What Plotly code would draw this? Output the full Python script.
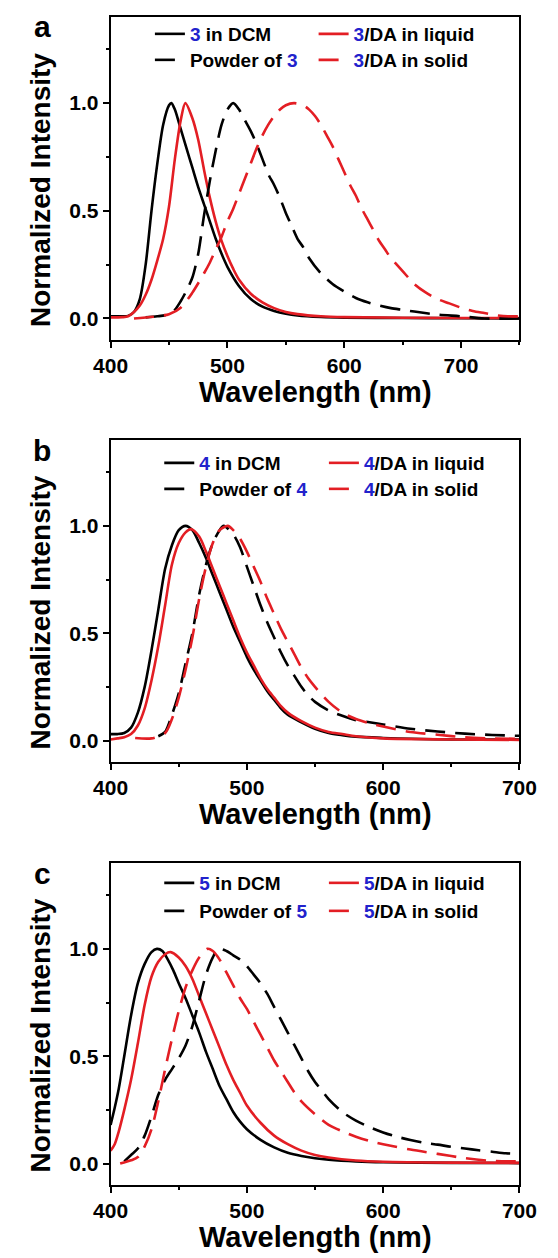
import plotly.graph_objects as go

# ---------------- Panel a : compound 3 ----------------
wl_3_dcm = [400, 410, 415, 420, 425, 430, 435, 440, 445, 450, 452, 455, 460, 465, 470, 475, 480,
            485, 490, 495, 500, 510, 520, 530, 540, 550, 560, 580, 600, 650, 700, 750]
int_3_dcm = [0.01, 0.01, 0.012, 0.03, 0.09, 0.25, 0.50, 0.72, 0.90, 0.99, 1.0, 0.97, 0.88, 0.79, 0.70,
             0.61, 0.53, 0.45, 0.37, 0.30, 0.24, 0.15, 0.09, 0.055, 0.035, 0.022, 0.014, 0.007,
             0.004, 0.002, 0.001, 0.0]

wl_3_powder = [430, 440, 450, 455, 460, 465, 470, 475, 480, 485, 490, 495, 500, 505, 510, 515, 520,
               525, 530, 535, 540, 545, 550, 555, 560, 565, 570, 580, 590, 600, 610, 620, 630, 640,
               650, 660, 680, 700, 720, 750]
int_3_powder = [0.005, 0.01, 0.02, 0.04, 0.08, 0.13, 0.19, 0.30, 0.48, 0.64, 0.78, 0.90, 0.97, 1.0,
                0.97, 0.92, 0.87, 0.81, 0.74, 0.67, 0.62, 0.56, 0.49, 0.43, 0.37, 0.33, 0.28, 0.21,
                0.16, 0.125, 0.095, 0.075, 0.06, 0.048, 0.04, 0.032, 0.018, 0.01, 0.0, 0.0]

wl_3_liquid = [400, 410, 415, 420, 425, 430, 435, 440, 445, 450, 455, 460, 464, 470, 475, 480, 485,
               490, 495, 500, 505, 510, 520, 530, 540, 550, 560, 580, 600, 700, 750]
int_3_liquid = [0.005, 0.006, 0.01, 0.03, 0.06, 0.11, 0.18, 0.27, 0.37, 0.52, 0.74, 0.92, 1.0, 0.93,
                0.83, 0.69, 0.56, 0.45, 0.36, 0.29, 0.23, 0.18, 0.115, 0.075, 0.048, 0.03, 0.02,
                0.01, 0.006, 0.002, 0.002]

wl_3_solid = [420, 440, 450, 460, 470, 480, 485, 490, 495, 500, 505, 510, 515, 520, 525, 530, 535,
              540, 545, 550, 557, 565, 570, 575, 580, 585, 590, 595, 600, 605, 610, 615, 620, 625,
              630, 635, 640, 645, 650, 660, 670, 680, 690, 700, 710, 720, 730, 740, 750]
int_3_solid = [0.0, 0.01, 0.02, 0.05, 0.12, 0.21, 0.26, 0.32, 0.38, 0.45, 0.51, 0.58, 0.65, 0.72,
               0.79, 0.85, 0.90, 0.94, 0.97, 0.99, 1.0, 0.99, 0.97, 0.94, 0.90, 0.85, 0.80, 0.74,
               0.68, 0.62, 0.57, 0.51, 0.46, 0.41, 0.36, 0.32, 0.28, 0.25, 0.22, 0.16, 0.12, 0.09,
               0.07, 0.05, 0.035, 0.025, 0.015, 0.01, 0.01]

# ---------------- Panel b : compound 4 ----------------
wl_4_dcm = [400, 405, 410, 415, 420, 425, 430, 435, 440, 445, 450, 455, 460, 465, 470, 475, 480,
            485, 490, 495, 500, 505, 510, 515, 520, 525, 530, 540, 550, 560, 570, 580, 600, 620,
            650, 700]
int_4_dcm = [0.03, 0.03, 0.035, 0.06, 0.13, 0.25, 0.42, 0.61, 0.80, 0.91, 0.98, 1.0, 0.98, 0.92,
             0.85, 0.77, 0.69, 0.61, 0.53, 0.46, 0.39, 0.33, 0.28, 0.23, 0.19, 0.15, 0.12, 0.085,
             0.055, 0.035, 0.025, 0.018, 0.012, 0.008, 0.005, 0.005]

wl_4_powder = [435, 440, 445, 450, 455, 460, 465, 470, 475, 480, 483, 490, 495, 500, 505, 510, 515,
               520, 525, 530, 535, 540, 545, 550, 560, 570, 580, 590, 600, 620, 640, 660, 680, 700]
int_4_powder = [0.02, 0.04, 0.12, 0.22, 0.36, 0.50, 0.68, 0.82, 0.92, 0.98, 1.0, 0.96, 0.90, 0.81,
                0.72, 0.63, 0.55, 0.48, 0.41, 0.35, 0.30, 0.25, 0.21, 0.18, 0.14, 0.115, 0.095,
                0.085, 0.075, 0.055, 0.042, 0.032, 0.026, 0.022]

wl_4_liquid = [400, 405, 410, 415, 420, 425, 430, 435, 440, 445, 450, 455, 459, 465, 470, 475, 480,
               485, 490, 495, 500, 505, 510, 515, 520, 525, 530, 540, 550, 560, 570, 580, 600, 650,
               700]
int_4_liquid = [0.005, 0.01, 0.015, 0.03, 0.07, 0.15, 0.28, 0.44, 0.63, 0.82, 0.92, 0.97, 0.985,
                0.95, 0.88, 0.80, 0.72, 0.64, 0.56, 0.48, 0.41, 0.35, 0.29, 0.24, 0.20, 0.16, 0.13,
                0.09, 0.06, 0.04, 0.03, 0.02, 0.01, 0.005, 0.003]

wl_4_solid = [418, 430, 440, 445, 450, 455, 460, 465, 470, 475, 480, 486, 490, 495, 500, 505, 510,
              515, 520, 525, 530, 535, 540, 545, 550, 560, 570, 580, 590, 600, 620, 640, 660, 680,
              700]
int_4_solid = [0.012, 0.01, 0.035, 0.10, 0.20, 0.33, 0.48, 0.66, 0.81, 0.92, 0.98, 1.0, 0.98, 0.94,
               0.88, 0.81, 0.74, 0.66, 0.59, 0.52, 0.46, 0.40, 0.34, 0.29, 0.25, 0.18, 0.13, 0.10,
               0.08, 0.065, 0.04, 0.027, 0.015, 0.01, 0.008]

# ---------------- Panel c : compound 5 ----------------
wl_5_dcm = [400, 403, 406, 410, 415, 420, 425, 430, 434, 438, 442, 446, 450, 455, 460, 465, 470,
            475, 480, 485, 490, 495, 500, 510, 520, 530, 540, 550, 560, 580, 600, 650, 700]
int_5_dcm = [0.18, 0.26, 0.35, 0.50, 0.69, 0.84, 0.93, 0.985, 1.0, 0.99, 0.95, 0.90, 0.84, 0.77,
             0.69, 0.61, 0.52, 0.44, 0.36, 0.30, 0.24, 0.195, 0.16, 0.11, 0.075, 0.05, 0.035,
             0.025, 0.018, 0.01, 0.006, 0.003, 0.002]

wl_5_powder = [410, 415, 420, 425, 430, 435, 440, 445, 450, 455, 460, 465, 470, 475, 479, 485, 490,
               495, 500, 505, 510, 515, 520, 525, 530, 535, 540, 545, 550, 555, 560, 570, 580, 590,
               600, 610, 620, 630, 640, 650, 660, 670, 680, 690, 700]
int_5_powder = [0.01, 0.04, 0.07, 0.13, 0.22, 0.32, 0.39, 0.44, 0.49, 0.55, 0.64, 0.76, 0.88, 0.96,
                1.0, 0.99, 0.97, 0.95, 0.92, 0.88, 0.84, 0.79, 0.73, 0.67, 0.61, 0.55, 0.49, 0.43,
                0.38, 0.34, 0.30, 0.24, 0.20, 0.17, 0.145, 0.125, 0.11, 0.097, 0.088, 0.078, 0.07,
                0.062, 0.055, 0.048, 0.045]

wl_5_liquid = [400, 403, 406, 410, 415, 420, 425, 430, 435, 440, 444, 450, 455, 460, 465, 470, 475,
               480, 485, 490, 495, 500, 510, 520, 530, 540, 550, 560, 580, 600, 650, 700]
int_5_liquid = [0.06, 0.09, 0.15, 0.25, 0.39, 0.56, 0.74, 0.87, 0.94, 0.975, 0.985, 0.96, 0.92,
                0.86, 0.78, 0.70, 0.62, 0.54, 0.46, 0.39, 0.33, 0.27, 0.19, 0.13, 0.09, 0.06, 0.04,
                0.028, 0.014, 0.008, 0.004, 0.003]

wl_5_solid = [407, 415, 420, 425, 430, 435, 440, 445, 450, 455, 460, 465, 471, 475, 480, 485, 490,
              495, 500, 505, 510, 515, 520, 525, 530, 535, 540, 550, 560, 570, 580, 590, 600, 620,
              640, 660, 680, 700]
int_5_solid = [0.0, 0.015, 0.03, 0.08, 0.16, 0.29, 0.44, 0.58, 0.71, 0.82, 0.90, 0.96, 1.0, 0.99,
               0.95, 0.89, 0.83, 0.77, 0.72, 0.66, 0.60, 0.54, 0.48, 0.43, 0.38, 0.33, 0.29, 0.23,
               0.18, 0.15, 0.125, 0.105, 0.09, 0.065, 0.045, 0.025, 0.012, 0.01]

# ---------------- styling ----------------
W, H = 558, 1258
FONT = "Liberation Sans"
BLACK = "#000000"
RED = "#e31e24"
BLUE = "#2222cc"
DASH = "20px,10px"
LW = 2.6

# legend entries: (column x of the entry, row centres) per panel
panels = [
    dict(letter="a", num="3", top=17, bot=340, xmax=750,
         leg_cols=(141, 316), leg_rows=(34, 60),
         series=[(wl_3_dcm, int_3_dcm), (wl_3_liquid, int_3_liquid),
                 (wl_3_powder, int_3_powder), (wl_3_solid, int_3_solid)]),
    dict(letter="b", num="4", top=440, bot=762, xmax=700,
         leg_cols=(151, 327), leg_rows=(463, 489),
         series=[(wl_4_dcm, int_4_dcm), (wl_4_liquid, int_4_liquid),
                 (wl_4_powder, int_4_powder), (wl_4_solid, int_4_solid)]),
    dict(letter="c", num="5", top=863, bot=1185, xmax=700,
         leg_cols=(151, 327), leg_rows=(883, 911),
         series=[(wl_5_dcm, int_5_dcm), (wl_5_liquid, int_5_liquid),
                 (wl_5_powder, int_5_powder), (wl_5_solid, int_5_solid)]),
]

X0, X1 = 99, 536


def px_x(p):
    return p / W


def px_y(p):
    return 1 - p / H


fig = go.Figure()
layout = dict(
    width=W, height=H,
    margin=dict(l=0, r=0, t=0, b=0),
    paper_bgcolor="white", plot_bgcolor="white",
    font=dict(family=FONT, color=BLACK),
    showlegend=True,
    annotations=[],
)

tick_font = dict(family=FONT, size=21, weight="bold", color=BLACK)
leg_n = 0

for i, p in enumerate(panels):
    k = "" if i == 0 else str(i + 1)
    xa, ya = "x" + k, "y" + k
    n = p["num"]
    b = f"<span style='color:{BLUE}'>{n}</span>"
    names = [f"{b} in DCM", f"{b}/DA in liquid", f"Powder of {b}", f"{b}/DA in solid"]
    styles = [(BLACK, "solid"), (RED, "solid"), (BLACK, DASH), (RED, DASH)]
    # entry slots: DCM and liquid on the first row, powder and solid on the second
    slots = [(0, 0), (1, 0), (0, 1), (1, 1)]
    for (wl, inten), name, (col, dash), (c, r) in zip(p["series"], names, styles, slots):
        leg_n += 1
        leg = "legend" if leg_n == 1 else f"legend{leg_n}"
        fig.add_trace(go.Scatter(
            x=wl, y=inten, mode="lines", name=name, showlegend=True,
            line=dict(color=col, width=LW, dash=dash, shape="spline", smoothing=0.8),
            xaxis=xa, yaxis=ya, legend=leg, hoverinfo="skip",
        ))
        layout[leg] = dict(
            x=px_x(p["leg_cols"][c]), xanchor="left",
            y=px_y(p["leg_rows"][r]), yanchor="middle",
            bgcolor="rgba(0,0,0,0)", borderwidth=0,
            font=dict(family=FONT, size=19, weight="bold", color=BLACK),
            itemclick=False, itemdoubleclick=False,
        )

    layout["xaxis" + k] = dict(
        domain=[px_x(X0), px_x(X1)], anchor=ya, range=[400, p["xmax"]],
        showline=True, linewidth=2, linecolor=BLACK, mirror=True,
        ticks="outside", ticklen=6, tickwidth=2, tickcolor=BLACK,
        tick0=400, dtick=100,
        minor=dict(dtick=50, ticks="outside", ticklen=3, tickwidth=2, tickcolor=BLACK),
        showgrid=False, zeroline=False, tickfont=tick_font,
    )
    layout["yaxis" + k] = dict(
        domain=[px_y(p["bot"]), px_y(p["top"])], anchor=xa, range=[-0.1, 1.4],
        showline=True, linewidth=2, linecolor=BLACK, mirror=True,
        ticks="outside", ticklen=6, tickwidth=2, tickcolor=BLACK,
        tick0=0, dtick=0.5, tickformat=".1f",
        minor=dict(dtick=0.25, ticks="outside", ticklen=3, tickwidth=2, tickcolor=BLACK),
        showgrid=False, zeroline=False, tickfont=tick_font,
    )

    top, bot = p["top"], p["bot"]
    layout["annotations"] += [
        dict(text=p["letter"], xref="paper", yref="paper", x=px_x(26), y=px_y(top + 10),
             xanchor="center", yanchor="middle", showarrow=False,
             font=dict(family=FONT, size=30, weight="bold", color=BLACK)),
        dict(text="Normalized Intensity", xref="paper", yref="paper", textangle=-90,
             x=px_x(24), y=px_y((top + bot) / 2 + 11), xanchor="center", yanchor="middle",
             showarrow=False, font=dict(family=FONT, size=28, weight="bold", color=BLACK)),
        dict(text="Wavelength (nm)", xref="paper", yref="paper",
             x=px_x((X0 + X1) / 2), y=px_y(bot + 52), xanchor="center", yanchor="middle",
             showarrow=False, font=dict(family=FONT, size=29, weight="bold", color=BLACK)),
    ]

fig.update_layout(**layout)
fig.write_html("out.html")
